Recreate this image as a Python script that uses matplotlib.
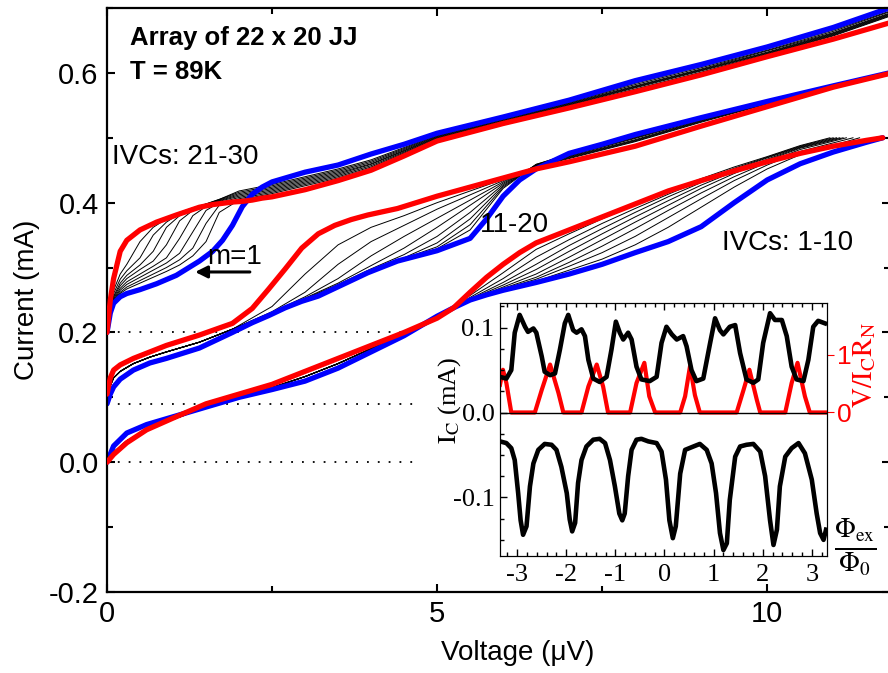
import matplotlib
matplotlib.use("Agg")
import matplotlib.pyplot as plt
from matplotlib.ticker import MultipleLocator, FixedLocator, FormatStrFormatter

# ---- main IVC data (voltage in uV, current in mA) ----
baselines = [0.0, 0.09, 0.2]
baseline_end = 4.7

# IVCs 1-10
g1_v = [0, 0.1, 0.3, 0.6, 1.0, 1.5, 2.0, 2.5, 3.0, 3.5, 4.0, 4.5, 5.0, 5.25, 5.5, 5.75,
        6.0, 6.25, 6.5, 7.0, 7.5, 8.0, 8.5, 9.0, 9.5, 10.0, 10.5, 11.0, 11.5, 11.75]
g1_red = [0, 0.012, 0.03, 0.05, 0.068, 0.09, 0.105, 0.12, 0.14, 0.16, 0.18, 0.2, 0.222,
          0.238, 0.262, 0.285, 0.305, 0.323, 0.338, 0.358, 0.378, 0.398, 0.418, 0.434,
          0.449, 0.463, 0.476, 0.487, 0.496, 0.5]
g1_blue = [0, 0.025, 0.045, 0.058, 0.07, 0.085, 0.1, 0.112, 0.125, 0.145, 0.17, 0.195,
           0.225, 0.238, 0.25, 0.258, 0.265, 0.271, 0.277, 0.29, 0.305, 0.323, 0.34, 0.363,
           0.4, 0.435, 0.46, 0.478, 0.493, 0.5]
g1_thin_low = [0, 0.015, 0.033, 0.05, 0.066, 0.085, 0.1, 0.115, 0.132, 0.152, 0.175,
               0.198, 0.223]
g1_thin_v_high = [5.5, 6.0, 6.5, 7.0, 7.5, 8.0, 8.5, 9.0, 9.5, 10.0, 10.5]
g1_thin_high = [
    [0.257, 0.292, 0.328, 0.352, 0.375, 0.397, 0.418, 0.437, 0.455, 0.471, 0.488],
    [0.254, 0.283, 0.316, 0.343, 0.368, 0.391, 0.413, 0.434, 0.453, 0.470, 0.487],
    [0.252, 0.277, 0.305, 0.334, 0.360, 0.385, 0.409, 0.431, 0.451, 0.469, 0.486],
    [0.251, 0.273, 0.297, 0.325, 0.352, 0.378, 0.403, 0.427, 0.448, 0.467, 0.485],
    [0.250, 0.270, 0.290, 0.316, 0.343, 0.370, 0.396, 0.422, 0.445, 0.465, 0.484],
    [0.250, 0.268, 0.285, 0.308, 0.333, 0.360, 0.388, 0.415, 0.440, 0.462, 0.482],
    [0.250, 0.267, 0.282, 0.302, 0.323, 0.348, 0.377, 0.406, 0.434, 0.458, 0.479],
    [0.250, 0.266, 0.279, 0.296, 0.313, 0.335, 0.362, 0.393, 0.424, 0.452, 0.474],
]
g1_thin_end_v = [10.95, 11.0, 11.05, 11.1, 11.15, 11.2, 11.3, 11.4]
g1_top = 0.5

# IVCs 11-20
g2_v = [0, 0.05, 0.1, 0.2, 0.4, 0.65, 0.9, 1.4, 1.9, 2.2, 2.45, 2.7, 2.95, 3.2, 3.45,
        3.7, 3.95, 4.4, 5.0, 5.5, 5.75, 6.0, 6.25, 6.5, 7.0, 7.5, 8.0, 9.0, 10.0, 11.0, 11.85]
g2_red = [0.105, 0.13, 0.142, 0.15, 0.16, 0.17, 0.18, 0.196, 0.214, 0.237, 0.267, 0.298,
          0.33, 0.352, 0.365, 0.374, 0.381, 0.391, 0.41, 0.424, 0.431, 0.438, 0.445, 0.452,
          0.463, 0.475, 0.487, 0.518, 0.548, 0.578, 0.599]
g2_blue = [0.09, 0.105, 0.116, 0.128, 0.142, 0.153, 0.16, 0.176, 0.2, 0.215, 0.226, 0.238,
           0.248, 0.256, 0.268, 0.28, 0.292, 0.31, 0.326, 0.345, 0.375, 0.41, 0.435, 0.452,
           0.476, 0.49, 0.505, 0.531, 0.556, 0.58, 0.6]
g2_thin_v_low = [0, 0.05, 0.1, 0.2, 0.4, 0.65, 0.9, 1.4, 1.9]
g2_thin_low = [0.098, 0.118, 0.13, 0.14, 0.152, 0.162, 0.17, 0.185, 0.205]
g2_thin_v_high = [2.5, 3.0, 3.5, 4.0, 4.5, 5.0, 5.5, 6.0, 6.5, 7.0, 8.0, 9.0, 10.0, 11.0, 11.85]
g2_thin_high = [
    [0.240, 0.290, 0.335, 0.362, 0.380, 0.400, 0.418, 0.436, 0.455, 0.468, 0.494, 0.524, 0.552, 0.579, 0.600],
    [0.232, 0.262, 0.305, 0.340, 0.365, 0.390, 0.412, 0.434, 0.456, 0.469, 0.495, 0.525, 0.553, 0.579, 0.600],
    [0.231, 0.255, 0.283, 0.318, 0.348, 0.376, 0.404, 0.432, 0.457, 0.470, 0.496, 0.526, 0.553, 0.580, 0.600],
    [0.230, 0.253, 0.276, 0.303, 0.330, 0.362, 0.396, 0.430, 0.457, 0.471, 0.497, 0.527, 0.554, 0.580, 0.600],
    [0.230, 0.252, 0.274, 0.298, 0.320, 0.348, 0.385, 0.428, 0.458, 0.472, 0.499, 0.528, 0.555, 0.580, 0.600],
    [0.229, 0.251, 0.272, 0.297, 0.315, 0.338, 0.375, 0.426, 0.458, 0.473, 0.500, 0.529, 0.555, 0.580, 0.600],
    [0.229, 0.251, 0.272, 0.296, 0.314, 0.332, 0.366, 0.424, 0.459, 0.474, 0.501, 0.529, 0.556, 0.580, 0.600],
    [0.228, 0.250, 0.271, 0.296, 0.313, 0.329, 0.358, 0.422, 0.459, 0.475, 0.503, 0.530, 0.556, 0.580, 0.600],
]

# IVCs 21-30
g3_v = [0, 0.05, 0.1, 0.2, 0.3, 0.5, 0.75, 1.05, 1.4, 1.6, 1.75, 1.9, 2.05, 2.2, 2.35,
        2.5, 3.0, 3.5, 4.0, 4.5, 5.0, 6.0, 7.0, 8.0, 9.0, 10.0, 11.0, 11.85]
g3_red = [0.2, 0.25, 0.283, 0.325, 0.342, 0.358, 0.37, 0.381, 0.393, 0.397, 0.399, 0.401,
          0.402, 0.404, 0.407, 0.409, 0.42, 0.434, 0.45, 0.472, 0.495, 0.522, 0.546, 0.571,
          0.597, 0.625, 0.652, 0.677]
g3_blue = [0.2, 0.23, 0.245, 0.255, 0.26, 0.266, 0.275, 0.288, 0.31, 0.325, 0.342, 0.365,
           0.394, 0.413, 0.424, 0.432, 0.447, 0.458, 0.475, 0.49, 0.507, 0.532, 0.558, 0.588,
           0.613, 0.64, 0.67, 0.7]
g3_thin_v = [0, 0.05, 0.1, 0.2, 0.3, 0.5, 0.7, 0.9, 1.1, 1.3, 1.5, 1.7, 2.0, 2.5, 3.0,
             3.5, 4.0, 5.0, 6.0, 7.0, 8.0, 9.0, 10.0, 11.0, 11.85]
g3_thin = [
    [0.2, 0.240, 0.265, 0.290, 0.305, 0.340, 0.362, 0.375, 0.385, 0.392, 0.398, 0.405, 0.418,
     0.428, 0.440, 0.452, 0.466, 0.504, 0.530, 0.555, 0.584, 0.610, 0.637, 0.666, 0.695],
    [0.2, 0.238, 0.260, 0.282, 0.295, 0.315, 0.350, 0.370, 0.383, 0.391, 0.398, 0.405, 0.416,
     0.426, 0.438, 0.450, 0.464, 0.503, 0.529, 0.554, 0.582, 0.608, 0.635, 0.664, 0.694],
    [0.2, 0.236, 0.256, 0.276, 0.288, 0.304, 0.325, 0.362, 0.380, 0.390, 0.397, 0.404, 0.414,
     0.424, 0.436, 0.448, 0.462, 0.502, 0.528, 0.553, 0.580, 0.606, 0.634, 0.662, 0.692],
    [0.2, 0.235, 0.254, 0.272, 0.283, 0.297, 0.310, 0.335, 0.372, 0.388, 0.396, 0.403, 0.412,
     0.422, 0.434, 0.446, 0.460, 0.501, 0.527, 0.552, 0.579, 0.605, 0.632, 0.661, 0.691],
    [0.2, 0.234, 0.252, 0.268, 0.278, 0.290, 0.302, 0.315, 0.345, 0.380, 0.394, 0.402, 0.410,
     0.420, 0.432, 0.444, 0.459, 0.500, 0.526, 0.551, 0.578, 0.604, 0.631, 0.660, 0.690],
    [0.2, 0.233, 0.250, 0.265, 0.274, 0.285, 0.296, 0.307, 0.322, 0.355, 0.388, 0.400, 0.408,
     0.418, 0.430, 0.442, 0.457, 0.499, 0.525, 0.550, 0.577, 0.603, 0.630, 0.659, 0.689],
    [0.2, 0.232, 0.249, 0.262, 0.270, 0.280, 0.290, 0.300, 0.312, 0.330, 0.368, 0.396, 0.406,
     0.416, 0.428, 0.440, 0.455, 0.498, 0.524, 0.549, 0.575, 0.601, 0.629, 0.658, 0.688],
    [0.2, 0.231, 0.248, 0.260, 0.267, 0.276, 0.285, 0.294, 0.304, 0.318, 0.340, 0.385, 0.404,
     0.414, 0.426, 0.438, 0.453, 0.497, 0.523, 0.548, 0.574, 0.600, 0.628, 0.657, 0.687],
]

# ---- inset data: critical current vs flux, and V/IcRn ----
phi_up = [-3.35, -3.22, -3.12, -3.05, -2.95, -2.84, -2.78, -2.67, -2.61, -2.50, -2.44, -2.33,
          -2.23, -2.13, -2.03, -1.96, -1.86, -1.79, -1.69, -1.62, -1.55, -1.45, -1.32, -1.18,
          -1.08, -0.99, -0.91, -0.84, -0.74, -0.67, -0.57, -0.47, -0.30, -0.16, -0.06, 0.04,
          0.15, 0.25, 0.38, 0.45, 0.55, 0.65, 0.79, 0.93, 1.03, 1.13, 1.20, 1.33, 1.44, 1.54,
          1.67, 1.81, 1.91, 2.01, 2.15, 2.25, 2.39, 2.49, 2.59, 2.69, 2.83, 2.93, 3.03, 3.13,
          3.27]
ic_up = [0.042, 0.040, 0.050, 0.094, 0.115, 0.101, 0.095, 0.099, 0.094, 0.066, 0.048, 0.044,
         0.046, 0.074, 0.105, 0.115, 0.097, 0.094, 0.098, 0.090, 0.062, 0.040, 0.036, 0.042,
         0.074, 0.107, 0.094, 0.086, 0.094, 0.086, 0.054, 0.039, 0.037, 0.042, 0.082, 0.101,
         0.092, 0.086, 0.090, 0.078, 0.050, 0.037, 0.040, 0.082, 0.111, 0.097, 0.092, 0.101,
         0.103, 0.070, 0.039, 0.035, 0.039, 0.082, 0.117, 0.109, 0.109, 0.090, 0.054, 0.039,
         0.037, 0.062, 0.101, 0.108, 0.105]
phi_dn = [-3.35, -3.22, -3.12, -3.05, -2.98, -2.93, -2.88, -2.81, -2.74, -2.67, -2.57, -2.44,
          -2.30, -2.20, -2.10, -1.99, -1.93, -1.88, -1.82, -1.76, -1.69, -1.59, -1.45, -1.32,
          -1.21, -1.11, -1.01, -0.92, -0.86, -0.81, -0.74, -0.67, -0.57, -0.47, -0.33, -0.16,
          -0.06, 0.03, 0.10, 0.17, 0.23, 0.32, 0.42, 0.59, 0.72, 0.86, 0.96, 1.05, 1.13, 1.20,
          1.27, 1.33, 1.44, 1.54, 1.67, 1.81, 1.95, 2.05, 2.15, 2.22, 2.29, 2.35, 2.46, 2.59,
          2.73, 2.86, 3.00, 3.10, 3.17, 3.24, 3.29]
ic_dn = [-0.034, -0.036, -0.042, -0.056, -0.095, -0.127, -0.144, -0.134, -0.087, -0.060,
         -0.044, -0.037, -0.038, -0.044, -0.064, -0.095, -0.126, -0.140, -0.130, -0.083,
         -0.056, -0.040, -0.032, -0.031, -0.036, -0.056, -0.087, -0.119, -0.127, -0.119,
         -0.075, -0.044, -0.032, -0.031, -0.034, -0.036, -0.046, -0.079, -0.127, -0.148,
         -0.134, -0.072, -0.044, -0.040, -0.037, -0.044, -0.060, -0.095, -0.142, -0.162,
         -0.154, -0.103, -0.052, -0.040, -0.038, -0.037, -0.046, -0.075, -0.127, -0.156,
         -0.138, -0.087, -0.052, -0.042, -0.036, -0.048, -0.079, -0.119, -0.142, -0.150,
         -0.138]
phi_v = [-3.35, -3.29, -3.22, -3.12, -2.64, -2.50, -2.33, -2.16, -2.06, -1.69, -1.55, -1.38,
         -1.25, -1.15, -0.70, -0.57, -0.41, -0.31, -0.19, 0.32, 0.42, 0.52, 0.62, 0.72, 1.47,
         1.61, 1.73, 1.88, 1.95, 2.46, 2.59, 2.71, 2.86, 2.96, 3.29]
v_norm = [0.48, 0.74, 0.51, 0, 0, 0.39, 0.83, 0.34, 0, 0, 0.45, 0.83, 0.45, 0, 0, 0.51, 0.86,
          0.28, 0, 0, 0.28, 0.80, 0.30, 0, 0, 0.39, 0.74, 0.22, 0, 0, 0.51, 0.86, 0.28, 0, 0]

RED = "#ff0000"
BLUE = "#0000ff"
SERIF = ["Liberation Serif", "DejaVu Serif"]

plt.rcParams["font.family"] = ["Liberation Sans", "DejaVu Sans"]
plt.rcParams["mathtext.fontset"] = "stix"
plt.rcParams["axes.unicode_minus"] = False
plt.rcParams["lines.solid_joinstyle"] = "round"

fig = plt.figure(figsize=(8.88, 6.73), dpi=100)
ax = fig.add_axes([107 / 888, 1 - 592 / 673, 783 / 888, 584 / 673])

# dotted zero-current references
for b in baselines:
    ax.plot([0, baseline_end], [b, b], color="k", lw=1.3, ls=(0, (1, 5)))

# thin black IVCs
for high, vend in zip(g1_thin_high, g1_thin_end_v):
    ax.plot(g1_v[:13] + g1_thin_v_high + [vend], g1_thin_low + high + [g1_top],
            color="k", lw=0.7)
for high in g2_thin_high:
    ax.plot(g2_thin_v_low + g2_thin_v_high, g2_thin_low + high, color="k", lw=0.7)
for row in g3_thin:
    ax.plot(g3_thin_v, row, color="k", lw=0.7)

# thick blue / red boundary curves
for v, blue, red in [(g1_v, g1_blue, g1_red), (g2_v, g2_blue, g2_red), (g3_v, g3_blue, g3_red)]:
    ax.plot(v, blue, color=BLUE, lw=3.8, solid_capstyle="round", zorder=2)
    ax.plot(v, red, color=RED, lw=3.8, solid_capstyle="round", zorder=3)

ax.set_xlim(0, 11.86)
ax.set_ylim(-0.2, 0.7)
ax.xaxis.set_major_locator(FixedLocator([0, 5, 10]))
ax.xaxis.set_minor_locator(FixedLocator([2.5, 7.5]))
ax.yaxis.set_major_locator(MultipleLocator(0.2))
ax.yaxis.set_minor_locator(MultipleLocator(0.1))
ax.yaxis.set_major_formatter(FormatStrFormatter("%.1f"))
ax.tick_params(which="both", direction="in", top=True, right=True, width=1.5,
               labelsize=21)
ax.tick_params(which="major", length=6, pad=6)
ax.tick_params(which="minor", length=4)
for s in ax.spines.values():
    s.set_linewidth(1.6)
ax.set_xlabel("Voltage (\u03bcV)", fontsize=20)
ax.xaxis.set_label_coords(0.525, -0.083)
ax.set_ylabel("Current (mA)", fontsize=20, labelpad=6)

# annotations
ax.text(0.029, 0.949, "Array of 22 x 20 JJ", transform=ax.transAxes, fontsize=18.5,
        fontweight="bold", va="center")
ax.text(0.029, 0.890, "T = 89K", transform=ax.transAxes, fontsize=18.5,
        fontweight="bold", va="center")
ax.text(0.006, 0.745, "IVCs: 21-30", transform=ax.transAxes, fontsize=20, va="center")
ax.text(0.128, 0.574, "m=1", transform=ax.transAxes, fontsize=20, va="center")
ax.annotate("", xy=(0.109, 0.548), xytext=(0.186, 0.548), xycoords="axes fraction",
            arrowprops=dict(arrowstyle="-|>", color="k", lw=2.2, mutation_scale=18))
ax.text(0.476, 0.628, "11-20", transform=ax.transAxes, fontsize=20, va="center")
ax.text(0.785, 0.598, "IVCs: 1-10", transform=ax.transAxes, fontsize=20, va="center")

# ---- inset ----
ins = fig.add_axes([500 / 888, 1 - 556 / 673, 327 / 888, 253 / 673])
ins.axhline(0, color="k", lw=1.0)
ins.plot(phi_up, ic_up, color="k", lw=3.3, zorder=3)
ins.plot(phi_dn, ic_dn, color="k", lw=3.3, zorder=3)
ins.set_xlim(-3.35, 3.31)
ins.set_ylim(-0.169, 0.129)
ins.xaxis.set_major_locator(MultipleLocator(1))
ins.xaxis.set_minor_locator(MultipleLocator(0.2))
ins.yaxis.set_major_locator(MultipleLocator(0.1))
ins.yaxis.set_minor_locator(MultipleLocator(0.025))
ins.yaxis.set_major_formatter(FormatStrFormatter("%.1f"))
ins.tick_params(which="both", direction="in", top=True, width=1)
ins.tick_params(axis="x", labelsize=19, pad=6, labelfontfamily="Liberation Serif")
ins.tick_params(axis="y", labelsize=19, pad=4, labelfontfamily="Liberation Serif")
ins.tick_params(which="major", length=5)
ins.tick_params(which="minor", length=3)

ins2 = ins.twinx()
ins2.plot(phi_v, v_norm, color=RED, lw=3.0, zorder=2)
ins2.set_ylim(-2.486, 1.896)
ins2.set_yticks([0, 1])
ins2.tick_params(axis="y", colors=RED, direction="out", length=5, labelsize=19, pad=2)
ins.set_zorder(ins2.get_zorder() + 1)
ins.patch.set_visible(False)
ins2.patch.set_facecolor("white")

fig.text(450 / 888, 1 - 400 / 673, r"$\mathrm{I_C}$ (mA)", fontsize=19, family=SERIF,
         rotation=90, ha="center", va="center")
fig.text(865 / 888, 1 - 365 / 673, r"$\mathrm{V/I_C R_N}$", fontsize=20, color=RED,
         rotation=90, ha="center", va="center")
fig.text(855 / 888, 1 - 548 / 673, r"$\frac{\Phi_{\mathrm{ex}}}{\Phi_0}$", fontsize=28,
         ha="center", va="center")

fig.savefig("out.png", dpi=100)
